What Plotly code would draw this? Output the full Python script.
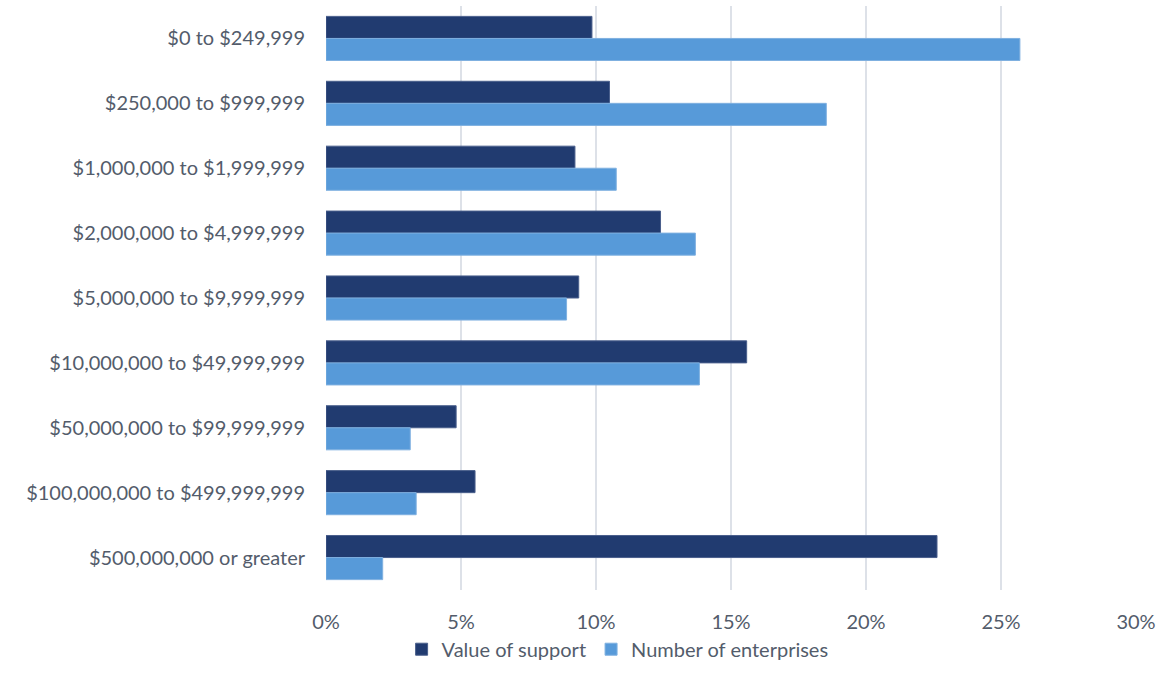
import plotly.graph_objects as go

categories = [
    "$0 to $249,999",
    "$250,000 to $999,999",
    "$1,000,000 to $1,999,999",
    "$2,000,000 to $4,999,999",
    "$5,000,000 to $9,999,999",
    "$10,000,000 to $49,999,999",
    "$50,000,000 to $99,999,999",
    "$100,000,000 to $499,999,999",
    "$500,000,000 or greater",
]
value_of_support = [9.85, 10.5, 9.22, 12.39, 9.36, 15.58, 4.82, 5.52, 22.63]
number_of_enterprises = [25.7, 18.53, 10.75, 13.68, 8.91, 13.83, 3.12, 3.34, 2.1]
tick_vals = [0, 5, 10, 15, 20, 25, 30]
tick_text = ["0%", "5%", "10%", "15%", "20%", "25%", "30%"]

FONT = "Lato, 'Open Sans', sans-serif"
TXT = "#535c6b"

fig = go.Figure()
fig.add_trace(go.Bar(
    y=categories, x=value_of_support, orientation="h", name="Value of support",
    marker=dict(color="#213b70", line=dict(color="#4a5f8c", width=1)),
))
fig.add_trace(go.Bar(
    y=categories, x=number_of_enterprises, orientation="h", name="Number of enterprises",
    marker=dict(color="#579ad9", line=dict(color="#7fb0e0", width=1)),
))

fig.update_layout(
    width=1162, height=691,
    margin=dict(l=326, r=24, t=6, b=101),
    barmode="group", bargap=0.32, bargroupgap=0,
    plot_bgcolor="white", paper_bgcolor="white",
    font=dict(family=FONT, size=20, color=TXT),
    legend=dict(orientation="h", x=0.36, xanchor="center", y=-0.068, yanchor="top",
                font=dict(size=20, color=TXT), itemwidth=30,
                traceorder="normal"),
    xaxis=dict(range=[0, 30], tickmode="array", tickvals=tick_vals, ticktext=tick_text,
               showgrid=True, gridcolor="#dde1e8", gridwidth=2,
               zeroline=False, showline=False, ticks="", ticklabelstandoff=18,
               tickfont=dict(size=20, color=TXT)),
    yaxis=dict(autorange="reversed", showgrid=False, ticks="", showline=False,
               ticklabelstandoff=20, tickfont=dict(size=20, color=TXT)),
)

fig.write_html("out.html")
